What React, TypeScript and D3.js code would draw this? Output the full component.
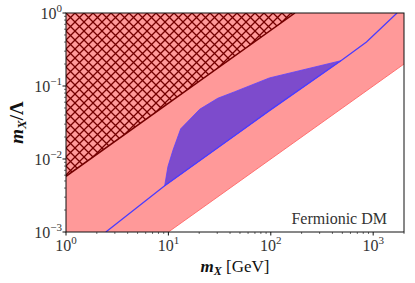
import * as d3 from "d3";

// values (m_X in GeV, m_X / Lambda)
const blueLine: [number, number][] = [
  [2.45, 0.001], [9.2, 0.0043], [53, 0.025], [97, 0.046],
  [484, 0.222], [860, 0.40], [1710, 1.0],
];
const purpleUpper: [number, number][] = [
  [9.2, 0.0043], [9.9, 0.0079], [11.1, 0.0133], [13.2, 0.026],
  [20.2, 0.048], [30.4, 0.068], [44, 0.083], [97, 0.129], [484, 0.222],
];
const purpleLower: [number, number][] = [
  [9.2, 0.0043], [53, 0.025], [97, 0.046], [484, 0.222],
];
const pinkRatio = 1e-4;     // lower edge of the pink band: m/Lambda = 1e-4 * m
const hatchRatio = 0.0058;  // excluded region: m/Lambda > 0.0058 * m
const xTicks = [1, 10, 100, 1000];
const xTickExp = ["0", "1", "2", "3"];
const yTicks = [0.001, 0.01, 0.1, 1];
const yTickExp = ["−3", "−2", "−1", "0"];

const W = 415, H = 283;
const margin = { left: 66, right: 11, top: 13, bottom: 51 };
const serif = { fontFamily: "Liberation Serif, DejaVu Serif, serif" };
const hs = 9; // hatch spacing

export default function App() {
  const x = d3.scaleLog().domain([1, 2000]).range([margin.left, W - margin.right]);
  const y = d3.scaleLog().domain([0.001, 1]).range([H - margin.bottom, margin.top]);
  const [x0, x1] = x.range();
  const [y0, y1] = y.range();

  const line = d3.line<[number, number]>().x(d => x(d[0])).y(d => y(d[1]));

  const pinkPts: [number, number][] = [
    [1, 1], [2000, 1], [2000, pinkRatio * 2000], [0.001 / pinkRatio, 0.001], [1, 0.001],
  ];
  const hatchTop = 1 / hatchRatio;
  const hatchPts: [number, number][] = [[1, hatchRatio], [hatchTop, 1], [1, 1]];
  const purplePts = [...purpleLower, ...purpleUpper.slice().reverse()];

  const minorX: number[] = [];
  [1, 10, 100, 1000].forEach(d => {
    for (let k = 2; k <= 9; k++) if (d * k <= 2000) minorX.push(d * k);
  });
  const minorY: number[] = [];
  [0.001, 0.01, 0.1].forEach(d => {
    for (let k = 2; k <= 9; k++) minorY.push(d * k);
  });

  return (
    <svg width={W} height={H} style={{ position: "absolute", left: 0, top: 0 }}>
      <defs>
        <clipPath id="plot">
          <rect x={x0} y={y1} width={x1 - x0} height={y0 - y1} />
        </clipPath>
        <pattern id="hatch" patternUnits="userSpaceOnUse" x={x0} y={y1} width={hs} height={hs}>
          <path d={`M0,0L${hs},${hs}M${hs},0L0,${hs}`} stroke="#740000" strokeWidth={1.3} />
        </pattern>
      </defs>
      <rect width={W} height={H} fill="#fff" />
      <g clipPath="url(#plot)">
        <path d={line(pinkPts) + "Z"} fill="#ff9999" stroke="none" />
        <path d={line([[2000, pinkRatio * 2000], [0.001 / pinkRatio, 0.001]])!} stroke="#ff7070" strokeWidth={1} fill="none" />
        <path d={line(hatchPts) + "Z"} fill="url(#hatch)" />
        <path d={line([[1, hatchRatio], [hatchTop, 1]])!} stroke="#740000" strokeWidth={1.5} fill="none" />
        <path d={line(purplePts) + "Z"} fill="#7d4bcc" stroke="#5a40ff" strokeWidth={0.8} />
        <path d={line(blueLine)!} stroke="#4a3cff" strokeWidth={1.3} fill="none" />
      </g>
      <rect x={x0} y={y1} width={x1 - x0} height={y0 - y1} fill="none" stroke="#111" strokeWidth={1} />

      {xTicks.map((t, i) => (
        <g key={"xt" + t}>
          <line x1={x(t)} x2={x(t)} y1={y0} y2={y0 + 3.5} stroke="#111" />
          <text x={x(t)} y={251} textAnchor="middle" fontSize={16} fill="#333" style={serif}>
            10<tspan dy={-7} fontSize={11}>{xTickExp[i]}</tspan>
          </text>
        </g>
      ))}
      {minorX.map(t => (
        <line key={"xm" + t} x1={x(t)} x2={x(t)} y1={y0} y2={y0 + 2} stroke="#111" strokeWidth={0.6} />
      ))}
      {yTicks.map((t, i) => (
        <g key={"yt" + t}>
          <line x1={x0 - 3.5} x2={x0} y1={y(t)} y2={y(t)} stroke="#111" />
          <text x={62} y={y(t) + 6} textAnchor="end" fontSize={16} fill="#333" style={serif}>
            10<tspan dy={-7} fontSize={11}>{yTickExp[i]}</tspan>
          </text>
        </g>
      ))}
      {minorY.map(t => (
        <line key={"ym" + t} x1={x0 - 2} x2={x0} y1={y(t)} y2={y(t)} stroke="#111" strokeWidth={0.6} />
      ))}

      <text x={387} y={224} textAnchor="end" fontSize={16} fill="#333" style={serif}>Fermionic DM</text>

      <text x={(x0 + x1) / 2} y={272} textAnchor="middle" fontSize={17} fill="#111" style={serif}>
        <tspan fontWeight="bold" fontStyle="italic">m</tspan>
        <tspan fontWeight="bold" fontStyle="italic" fontSize={12} dy={3}>X</tspan>
        <tspan dy={-3}> [GeV]</tspan>
      </text>
      <text transform={`translate(23,${(y0 + y1) / 2}) rotate(-90)`} textAnchor="middle" fontSize={19} fill="#111" style={serif}>
        <tspan fontWeight="bold" fontStyle="italic">m</tspan>
        <tspan fontWeight="bold" fontStyle="italic" fontSize={13} dy={3}>X</tspan>
        <tspan dy={-3} fontWeight="bold">/Λ</tspan>
      </text>
    </svg>
  );
}
